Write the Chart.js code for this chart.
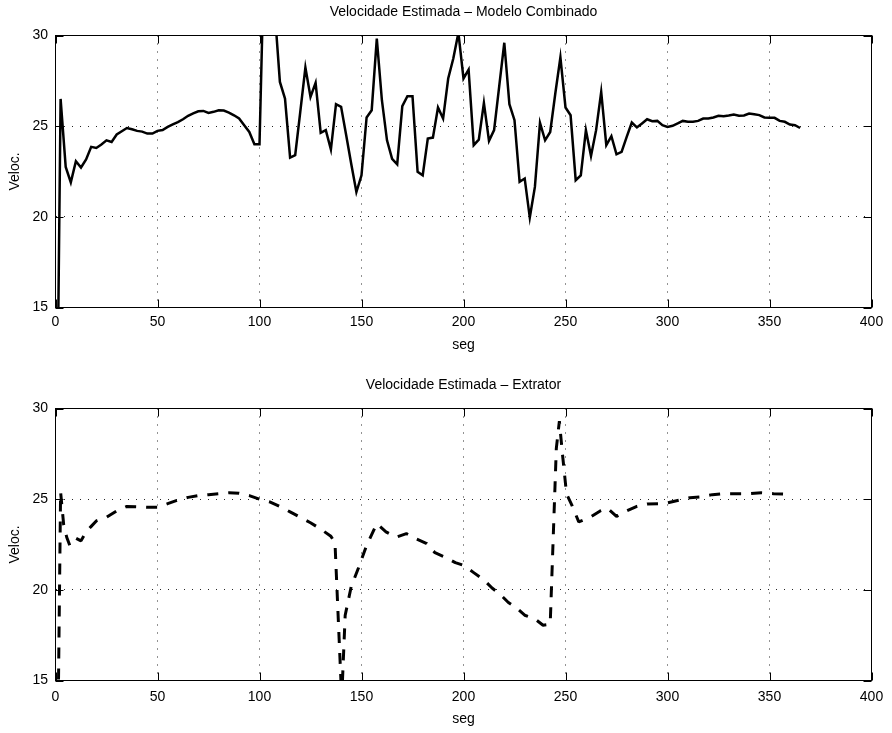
<!DOCTYPE html>
<html>
<head>
<meta charset="utf-8">
<script src="https://cdn.jsdelivr.net/npm/chart.js@4.4.1/dist/chart.umd.min.js"></script>
<style>
  html, body { margin: 0; padding: 0; background: #fff; }
  #wrap { position: relative; width: 892px; height: 733px; }
  canvas { position: absolute; left: 0; }
</style>
</head>
<body>
<div id="wrap">
  <canvas id="c1" width="892" height="366" style="top:0"></canvas>
  <canvas id="c2" width="892" height="367" style="top:366px"></canvas>
</div>
<script>
// ---------- data ----------
const xTicks = [0, 50, 100, 150, 200, 250, 300, 350, 400];
const yTicks = [15, 20, 25, 30];
const titleTop = 'Velocidade Estimada – Modelo Combinado';
const titleBottom = 'Velocidade Estimada – Extrator';
const xLabel = 'seg';
const yLabel = 'Veloc.';

// Combined model: one sample every 2.5 s, starting at t = 0
const combStep = 2.5;
const combValues = [
  0, 26.5, 22.75, 21.9, 23.07, 22.72, 23.16, 23.86, 23.8, 23.99,
  24.22, 24.13, 24.54, 24.72, 24.9, 24.83, 24.74, 24.7, 24.59, 24.59,
  24.74, 24.79, 24.96, 25.1, 25.22, 25.38, 25.57, 25.7, 25.82, 25.84,
  25.73, 25.79, 25.88, 25.86, 25.75, 25.6, 25.42, 25.05, 24.68, 24.0,
  24.0, 35.5, 34, 31.3, 27.44, 26.52, 23.27, 23.4, 25.8, 28.23,
  26.61, 27.39, 24.63, 24.78, 23.71, 26.21, 26.07, 24.5, 22.9, 21.37,
  22.29, 25.48, 25.88, 29.83, 26.43, 24.22, 23.2, 22.9, 26.1, 26.65,
  26.65, 22.48, 22.29, 24.32, 24.37, 26.03, 25.42, 27.63, 28.73, 30.15,
  27.63, 28.12, 23.95, 24.26, 26.28, 24.19, 24.78, 27.2, 29.6, 26.21,
  25.33, 21.93, 22.11, 19.96, 21.65, 25.18, 24.22, 24.68, 26.8, 28.79,
  26.03, 25.6, 22.02, 22.29, 24.78, 23.35, 24.78, 26.89, 23.95, 24.45,
  23.45, 23.58, 24.41, 25.2, 24.93, 25.15, 25.38, 25.27, 25.29, 25.05,
  24.96, 25.02, 25.15, 25.29, 25.24, 25.24, 25.29, 25.42, 25.42, 25.48,
  25.57, 25.55, 25.59, 25.64, 25.57, 25.59, 25.7, 25.66, 25.61, 25.48,
  25.46, 25.46, 25.29, 25.24, 25.09, 25.05, 24.9
];

// Extractor estimate
const extTimes = [
  0, 2.5, 4, 5.5, 7, 10, 12.5, 15, 17.5, 20,
  25, 30, 35, 40, 45, 50, 55, 60, 65, 70,
  75, 80, 85, 90, 95, 100, 105, 110, 115, 120,
  125, 130, 135, 137, 140.3, 142, 145, 148.5, 152.5, 157.5,
  162, 167, 172, 177, 182, 186, 191, 196, 200, 205,
  210, 214, 218, 222, 226, 230, 235, 239, 242.5, 245.5,
  247, 248.5, 250.5, 253, 256.5, 262, 267, 270.5, 275, 280,
  285, 290, 296, 300, 306, 311, 316, 322, 327, 333,
  340, 346, 352, 359
];
const extValues = [
  0, 25.4, 23.6, 22.9, 22.45, 22.85, 22.7, 23.2, 23.5, 23.8,
  24.0, 24.35, 24.6, 24.58, 24.55, 24.55, 24.75, 24.95, 25.1, 25.2,
  25.25, 25.3, 25.35, 25.33, 25.2, 25.0, 24.85, 24.6, 24.3, 24.0,
  23.7, 23.35, 22.95, 22.6, 14.0, 18.6, 20.2, 21.2, 22.45, 23.65,
  23.2, 22.9, 23.1, 22.8, 22.55, 22.05, 21.8, 21.5, 21.35, 20.95,
  20.55, 20.1, 19.75, 19.3, 19.0, 18.6, 18.4, 18.05, 18.1, 27.8,
  29.3, 27.5, 25.3, 24.7, 23.75, 24.0, 24.35, 24.5, 24.05, 24.35,
  24.6, 24.73, 24.75, 24.8, 24.95, 25.08, 25.12, 25.25, 25.3, 25.3,
  25.3, 25.35, 25.3, 25.28
];

// ---------- chart helpers ----------
const FONT = '"Liberation Sans", Arial, Helvetica, sans-serif';
const FS = 14;
Chart.defaults.font.family = FONT;
Chart.defaults.font.size = FS;
Chart.defaults.color = '#000';

const framePlugin = {
  id: 'frame',
  afterDatasetsDraw(chart) {
    const { ctx, chartArea: a, scales: { x, y } } = chart;
    ctx.save();
    ctx.strokeStyle = '#000';
    ctx.lineWidth = 1;
    ctx.strokeRect(a.left, a.top, a.right - a.left, a.bottom - a.top);
    const L = 8;
    ctx.beginPath();
    x.ticks.forEach(t => {
      const px = Math.round(x.getPixelForValue(t.value)) + 0.5;
      ctx.moveTo(px, a.bottom); ctx.lineTo(px, a.bottom - L);
      ctx.moveTo(px, a.top); ctx.lineTo(px, a.top + L);
    });
    y.ticks.forEach(t => {
      const py = Math.round(y.getPixelForValue(t.value)) + 0.5;
      ctx.moveTo(a.left, py); ctx.lineTo(a.left + L, py);
      ctx.moveTo(a.right, py); ctx.lineTo(a.right - L, py);
    });
    ctx.stroke();
    ctx.restore();
  }
};

function makeOptions(title, titlePad, xAxisHeight, xTitlePadBottom, xTickPad) {
  return {
    responsive: false,
    animation: false,
    devicePixelRatio: 1,
    layout: { padding: { left: 0, right: 20.5, top: 0, bottom: 0 } },
    plugins: {
      legend: { display: false },
      tooltip: { enabled: false },
      title: {
        display: true,
        fullSize: false,
        text: title,
        color: '#000',
        font: { size: FS, weight: 'normal', family: FONT },
        padding: titlePad
      }
    },
    scales: {
      x: {
        type: 'linear',
        min: 0, max: 400,
        afterFit: s => { s.height = xAxisHeight; },
        afterBuildTicks: s => { s.ticks = xTicks.map(v => ({ value: v })); },
        ticks: { color: '#000', font: { size: FS }, padding: xTickPad, maxRotation: 0, autoSkip: false },
        grid: { color: 'rgba(0,0,0,0.85)', lineWidth: 1, drawTicks: false },
        border: { display: false, dash: [1, 7] },
        title: { display: true, text: xLabel, color: '#000', font: { size: FS }, padding: { top: 0, bottom: xTitlePadBottom } }
      },
      y: {
        type: 'linear',
        min: 15, max: 30,
        afterFit: s => { s.width = 55.5; },
        afterBuildTicks: s => { s.ticks = yTicks.map(v => ({ value: v })); },
        ticks: { color: '#000', font: { size: FS }, padding: 7.5, autoSkip: false },
        grid: { color: 'rgba(0,0,0,0.85)', lineWidth: 1, drawTicks: false },
        border: { display: false, dash: [1, 7] },
        title: { display: true, text: yLabel, color: '#000', font: { size: FS }, padding: { top: 6.6, bottom: 0 } }
      }
    }
  };
}

const combData = combValues.map((v, i) => ({ x: i * combStep, y: v }));
const extData = extTimes.map((t, i) => ({ x: t, y: extValues[i] }));

new Chart(document.getElementById('c1'), {
  type: 'line',
  data: {
    datasets: [{
      data: combData,
      borderColor: '#000',
      borderWidth: 2.5,
      borderJoinStyle: 'miter',
      pointRadius: 0,
      tension: 0,
      fill: false,
      clip: 0
    }]
  },
  options: makeOptions(titleTop, { top: 4, bottom: 14.7 }, 58.5, 12.6, 6.5),
  plugins: [framePlugin]
});

new Chart(document.getElementById('c2'), {
  type: 'line',
  data: {
    datasets: [{
      data: extData,
      borderColor: '#000',
      borderWidth: 3,
      borderDash: [11, 10],
      borderJoinStyle: 'bevel',
      pointRadius: 0,
      tension: 0,
      fill: false,
      clip: 0
    }]
  },
  options: makeOptions(titleBottom, { top: 10.6, bottom: 15.1 }, 52.5, 5.6, 8.4),
  plugins: [framePlugin]
});
</script>
</body>
</html>
